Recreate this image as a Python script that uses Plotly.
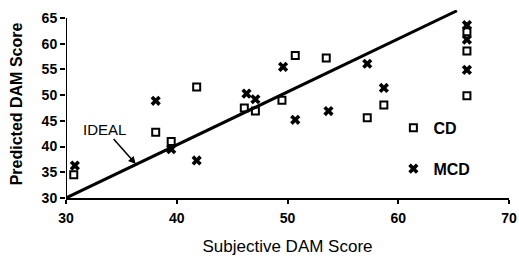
import plotly.graph_objects as go

# CD (open squares)
cd_x = [30.7, 38.1, 39.5, 41.8, 46.1, 47.1, 49.5, 50.7, 53.5, 57.2, 58.7, 66.2, 66.2, 66.2]
cd_y = [34.5, 42.8, 41.0, 51.6, 47.5, 46.9, 49.0, 57.7, 57.2, 45.6, 48.1, 62.3, 58.6, 49.9]
# MCD (crosses)
mcd_x = [30.8, 38.1, 39.5, 41.8, 46.3, 47.1, 49.6, 50.7, 53.7, 57.2, 58.7, 66.2, 66.2, 66.2]
mcd_y = [36.3, 48.9, 39.5, 37.3, 50.3, 49.2, 55.5, 45.2, 46.9, 56.1, 51.4, 63.6, 60.8, 54.9]
# Ideal line
ideal_x = [30, 65.3]
ideal_y = [30, 66.4]

x_ticks = [30, 40, 50, 60, 70]
y_ticks = [30, 35, 40, 45, 50, 55, 60, 65]
x_range = [30, 70]
y_range = [30, 66.55]

fig = go.Figure()
fig.add_trace(go.Scatter(x=ideal_x, y=ideal_y, mode="lines",
                         line=dict(color="black", width=3), showlegend=False))
fig.add_trace(go.Scatter(x=cd_x, y=cd_y, mode="markers", name="CD", legendgroup="cd",
                         marker=dict(symbol="square-open", size=7, color="black",
                                     line=dict(width=2, color="black")), cliponaxis=False))
fig.add_trace(go.Scatter(x=mcd_x, y=mcd_y, mode="markers", name="MCD", legendgroup="mcd",
                         marker=dict(symbol="x", size=9, color="black",
                                     line=dict(width=0)), cliponaxis=False))

tick_font = dict(family="Liberation Sans", size=14, color="black", weight="bold")

fig.update_layout(
    template="none",
    width=519, height=267,
    margin=dict(l=66, r=10, t=10, b=69, autoexpand=False),
    paper_bgcolor="white", plot_bgcolor="white",
    showlegend=True,
    hovermode=False,
    legend=dict(x=0.739, y=0.463, xanchor="left", yanchor="top",
                font=dict(family="Liberation Sans", size=16, color="black", weight="bold"),
                tracegroupgap=17, bgcolor="rgba(0,0,0,0)", borderwidth=0, itemwidth=30),
    xaxis=dict(range=x_range, tickvals=x_ticks, showgrid=False, zeroline=False,
               automargin=False,
               showline=True, linecolor="black", linewidth=2,
               ticks="outside", ticklen=4, tickwidth=2, tickcolor="black",
               tickfont=tick_font, ticklabelstandoff=2,
               title=dict(text="Subjective DAM Score",
                          font=dict(family="Liberation Sans", size=17, color="black"),
                          standoff=15)),
    yaxis=dict(range=y_range, tickvals=y_ticks, showgrid=False, zeroline=False,
               automargin=False,
               showline=False,
               ticks="outside", ticklen=5, tickwidth=2, tickcolor="black",
               tickfont=tick_font,
               title=dict(text="Predicted DAM Score",
                          font=dict(family="Liberation Sans", size=16, color="black", weight="bold"),
                          standoff=15)),
    # companion axes that add the inner half of the crossing tick marks
    xaxis2=dict(overlaying="x", anchor="y", side="bottom", range=x_range, tickvals=x_ticks,
                showgrid=False, zeroline=False, showline=False, showticklabels=False,
                automargin=False, ticks="inside", ticklen=3, tickwidth=2, tickcolor="black"),
    yaxis2=dict(overlaying="y", anchor="x", side="left", range=y_range, tickvals=y_ticks,
                showgrid=False, zeroline=False, showline=False, showticklabels=False,
                automargin=False, ticks="inside", ticklen=2, tickwidth=2, tickcolor="black"),
    shapes=[dict(type="line", xref="x", yref="y", x0=x_ticks[0], x1=x_ticks[0],
                 y0=y_ticks[0], y1=y_ticks[-1], line=dict(color="black", width=2))],
    annotations=[dict(x=36.3, y=36.6, xref="x", yref="y", text="IDEAL",
                      showarrow=True, arrowhead=2, arrowsize=1, arrowwidth=1.5,
                      arrowcolor="black", ax=-31, ay=-35,
                      font=dict(family="Liberation Sans", size=15, color="black"))],
)

# remove the default 8px page margin so the figure fills the window exactly
fig.write_html("out.html", config={"displayModeBar": False, "responsive": False},
               post_script="document.body.style.margin='0px';")
